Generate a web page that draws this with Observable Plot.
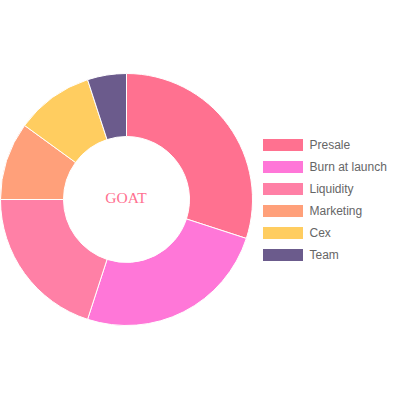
<!DOCTYPE html>
<html><head><meta charset="utf-8">
<script src="https://cdn.jsdelivr.net/npm/d3@7"></script>
<script src="https://cdn.jsdelivr.net/npm/@observablehq/plot@0.6"></script>
<style>body{margin:0;background:#fff}</style>
</head><body><div id="chart"></div>
<script>
const labels = ["Presale", "Burn at launch", "Liquidity", "Marketing", "Cex", "Team"];
const shares = [30, 25, 20, 10, 10, 5];
const colors = ["#ff7190", "#ff77d8", "#ff80a6", "#ffa07a", "#ffcd60", "#6b5b8c"];
const centerLabel = "GOAT";

const data = labels.map((label, i) => ({label, value: shares[i], color: colors[i], i}));
const arcs = d3.pie().sort(null).value(d => d.value)(data);

// layout (in pixel-like data units of the 400x400 frame)
const CX = 126.5, CY = 199.5, R_OUT = 126, R_IN = 63;

function donut(index, scales) {
  const g = d3.create("svg:g");
  const cx = scales.x(CX), cy = scales.y(CY);
  const ro = scales.x(R_OUT) - scales.x(0);
  const ri = scales.x(R_IN) - scales.x(0);
  const arc = d3.arc().innerRadius(ri).outerRadius(ro);
  g.attr("transform", `translate(${cx},${cy})`);
  g.selectAll("path").data(arcs).join("path")
    .attr("d", arc)
    .attr("fill", d => d.data.color)
    .attr("stroke", "#fff")
    .attr("stroke-width", 1);
  return g.node();
}

const LX = 263, LY = 139, STEP = 22;

const chart = Plot.plot({
  width: 400, height: 400,
  margin: 0,
  x: {domain: [0, 400], range: [0, 400], axis: null},
  y: {domain: [0, 400], range: [0, 400], axis: null},
  marks: [
    donut,
    Plot.text([centerLabel], {x: CX - 1, y: CY - 1.5, text: d => d, fill: "#ff7190",
      fontFamily: "Liberation Serif, serif", fontSize: 15.5}),
    Plot.rect(data, {x1: LX, x2: LX + 40, y1: d => LY + STEP * d.i, y2: d => LY + STEP * d.i + 12, fill: d => d.color}),
    Plot.text(data, {x: LX + 46, y: d => LY + 5.5 + STEP * d.i, text: "label", textAnchor: "start",
      fill: "#666", fontFamily: "Liberation Sans, Arial, sans-serif", fontSize: 12})
  ]
});
document.getElementById("chart").append(chart);
</script>
</body></html>
